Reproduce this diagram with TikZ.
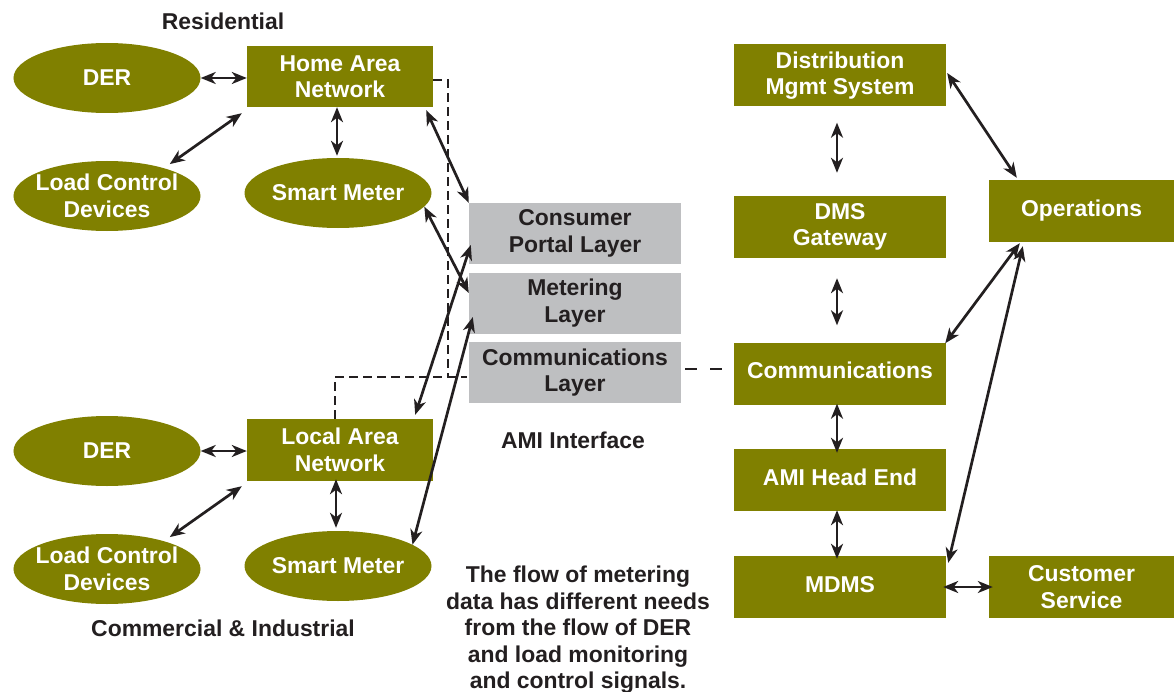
\documentclass[tikz,border=0pt]{standalone}
\usepackage{fontspec}
\setmainfont{Liberation Sans}
\usetikzlibrary{shapes.geometric,arrows.meta,calc}
\definecolor{olivebox}{RGB}{128,128,0}
\definecolor{layergray}{RGB}{190,191,193}
\definecolor{ink}{RGB}{35,31,32}
\begin{document}
\begin{tikzpicture}[x=1bp,y=-1bp,
  every node/.style={font=\fontsize{23}{26.5}\selectfont\bfseries, inner sep=0pt, align=center},
  obox/.style={rectangle, fill=olivebox, text=white},
  rbox/.style={obox, minimum width=212bp, minimum height=62bp},
  sbox/.style={obox, minimum width=186bp, minimum height=62bp},
  oell/.style={ellipse, fill=olivebox, text=white, inner xsep=-12bp, inner ysep=-12bp, minimum width=187bp, minimum height=70bp},
  lbox/.style={rectangle, fill=layergray, text=ink, minimum width=212bp, minimum height=61bp},
  lbl/.style={text=ink},
  tip/.tip={Stealth[length=15bp,width=12bp,inset=4.5bp]},
  link/.style={draw=ink, line width=2.7bp, tip-tip},
  dline/.style={draw=ink, line width=2.2bp, dash pattern=on 9bp off 5bp}
]
\fill[white] (0,0) rectangle (1175,692);
\useasboundingbox (0,0) rectangle (1175,692);

% Residential
\node[lbl] (res) at (223,21) {Residential};
\node[oell] (der1) at (107,78) {DER};
\node[sbox, minimum height=61bp] (han) at (340,76.5) {Home Area\\Network};
\node[oell] (lcd1) at (107,196) {Load Control\\Devices};
\node[oell] (sm1) at (338,193) {Smart Meter};

% AMI interface layers
\node[lbox] (cpl) at (575,233.5) {Consumer\\Portal Layer};
\node[lbox] (ml) at (575,303) {Metering\\Layer};
\node[lbox] (cl) at (575,372.5) {Communications\\Layer};
\node[lbl] (amiif) at (573,440) {AMI Interface};

% Commercial & Industrial
\node[oell] (der2) at (107,451) {DER};
\node[sbox] (lan) at (340,450) {Local Area\\Network};
\node[oell] (lcd2) at (107,569) {Load Control\\Devices};
\node[oell] (sm2) at (338,566) {Smart Meter};
\node[lbl] (ci) at (223,628) {Commercial \& Industrial};

% Utility side
\node[rbox] (dms) at (840,75.5) {Distribution\\Mgmt System};
\node[rbox] (dmsg) at (840,227) {DMS\\Gateway};
\node[rbox, text depth=6bp] (comm) at (840,373.5) {Communications};
\node[rbox, text depth=6bp] (amihe) at (840,480) {AMI Head End};
\node[rbox, text depth=6bp] (mdms) at (840,587) {MDMS};
\node[sbox, minimum width=185bp] (ops) at (1081.5,211) {Operations};
\node[sbox, minimum width=185bp] (cs) at (1081.5,587) {Customer\\Service};

\node[lbl, anchor=north] (note) at (578,566) {The flow of metering\\data has different needs\\from the flow of DER\\and load monitoring\\and control signals.};

% dashed links
\coordinate (j) at (448,377);
\draw[dline] ($(han.east)+(0,3.5)$) -| (j);
\draw[dline] ($(lan.north)+(-5,0)$) |- ($(cl.west)+(-2,4.5)$);
\draw[draw=ink, line width=2.2bp, dash pattern=on 12bp off 13bp] ($(cl.east)+(4,-3.5)$) -- ($(comm.west)+(-12,-4.5)$);

% residential links
\draw[link] (der1.east) -- (der1.east -| han.west);
\draw[link] ($(lcd1.north east)+(-3.5,-7)$) -- ($(han.south west)+(-5,6)$);
\draw[link] ($(han.south)+(-3,0)$) -- ($(sm1.north)+(-1,-2)$);
\draw[link] ($(han.south east)+(-7,3)$) -- (cpl.north west);
\draw[link] (sm1.-9) -- ($(ml.west)+(0,-10)$);

% C&I links
\draw[link] (der2.east) -- (der2.east -| lan.west);
\draw[link] ($(lcd2.north east)+(-3.5,-7)$) -- ($(lan.south west)+(-5,5)$);
\draw[link] ($(lan.south)+(-4,-2)$) -- ($(sm2.north)+(-2,-3)$);
\draw[link] ($(cpl.west)+(2,11.5)$) -- ($(lan.north east)+(-18,-4)$);
\draw[link] ($(ml.west)+(4,14)$) -- (sm2.16);

% utility links
\draw[link] ($(dms.south)+(-3,16)$) -- ($(dmsg.north)+(-3,-23)$);
\draw[link] ($(dmsg.south)+(-3,20)$) -- ($(comm.north)+(-3,-17)$);
\draw[link] ($(comm.south)+(-3,-1)$) -- ($(amihe.north)+(-3,4)$);
\draw[link] ($(amihe.south)+(-3,-1)$) -- ($(mdms.north)+(-3,3)$);
\draw[link] ($(mdms.east)+(-3,0)$) -- ($(cs.west)+(4,0)$);
\draw[link] ($(dms.east)+(1,-2.5)$) -- ($(ops.north west)+(28,-2)$);
\draw[link] ($(comm.north east)+(-1,1)$) -- ($(ops.south west)+(31,1)$);
\draw[link] ($(mdms.north east)+(2,7)$) -- ($(ops.south west)+(34,4)$);
\end{tikzpicture}
\end{document}
